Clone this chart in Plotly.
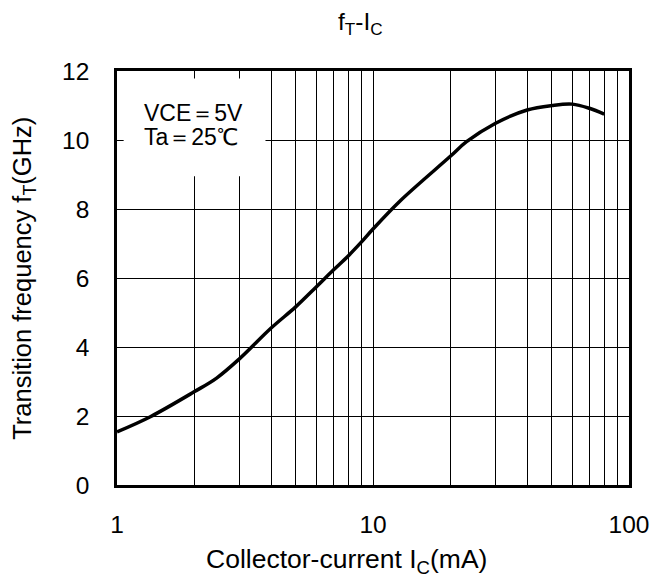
import plotly.graph_objects as go

# Data (collector current in mA, transition frequency in GHz)
ic_ma = [1, 1.35, 2, 2.45, 3, 4, 5, 6, 7, 8, 9, 10, 12.7, 20, 23.2, 30, 40, 50, 60, 70, 80]
ft_ghz = [1.54, 1.98, 2.70, 3.10, 3.65, 4.55, 5.17, 5.74, 6.23, 6.64, 7.04, 7.42, 8.22,
          9.52, 9.95, 10.48, 10.87, 11.00, 11.04, 10.92, 10.75]

x_tickvals = [1, 2, 3, 4, 5, 6, 7, 8, 9, 10, 20, 30, 40, 50, 60, 70, 80, 90, 100]
x_ticktext = ["1", "", "", "", "", "", "", "", "", "10", "", "", "", "", "", "", "", "", "100"]
y_tickvals = [0, 2, 4, 6, 8, 10, 12]

FONT = "Liberation Sans, Arial, sans-serif"

fig = go.Figure()
fig.add_trace(go.Scatter(
    x=ic_ma, y=ft_ghz, mode="lines",
    line=dict(color="black", width=3.5, shape="spline", smoothing=1.0),
    showlegend=False, hoverinfo="skip",
))

fig.update_layout(
    width=667, height=580,
    margin=dict(l=117, r=38, t=71, b=95),
    paper_bgcolor="white", plot_bgcolor="white",
    font=dict(family=FONT, size=24, color="black"),
    showlegend=False,
)

fig.update_xaxes(
    type="log", range=[0, 2],
    tickvals=x_tickvals, ticktext=x_ticktext,
    showgrid=True, gridcolor="black", gridwidth=1,
    showline=True, linecolor="black", linewidth=2.5, mirror=True,
    ticks="inside", ticklen=6, tickcolor="black",
    ticklabelstandoff=16,
    tickfont=dict(family=FONT, size=24.5, color="black"),
    zeroline=False,
)
fig.update_yaxes(
    range=[0, 12],
    tickvals=y_tickvals,
    showgrid=True, gridcolor="black", gridwidth=1,
    showline=True, linecolor="black", linewidth=2.5, mirror=True,
    ticks="inside", ticklen=6, tickcolor="black",
    ticklabelstandoff=20,
    tickfont=dict(family=FONT, size=24.5, color="black"),
    zeroline=False,
)

# White box behind the condition note (covers the grid as in the reference)
fig.add_shape(type="rect", xref="x domain", yref="y domain",
              x0=0.013, x1=0.29, y0=0.746, y1=0.982,
              fillcolor="white", line=dict(width=0), layer="above")

fig.add_annotation(text="VCE＝5V", xref="paper", yref="paper", x=0.049, y=0.899,
                   xanchor="left", yanchor="middle", showarrow=False,
                   font=dict(family=FONT, size=23, color="black"))
fig.add_annotation(text="Ta＝25℃", xref="paper", yref="paper", x=0.049, y=0.841,
                   xanchor="left", yanchor="middle", showarrow=False,
                   font=dict(family=FONT, size=23, color="black"))

# Title
fig.add_annotation(text="f<sub>T</sub>-I<sub>C</sub>", xref="paper", yref="paper",
                   x=0.475, y=(485 - 24) / 414, xanchor="center", yanchor="middle",
                   showarrow=False, font=dict(family=FONT, size=24.5, color="black"))
# Axis titles
fig.add_annotation(text="Collector-current I<sub>C</sub>(mA)", xref="paper", yref="paper",
                   x=0.449, y=(485 - 561) / 414, xanchor="center", yanchor="middle",
                   showarrow=False, font=dict(family=FONT, size=26.5, color="black"))
fig.add_annotation(text="Transition frequency f<sub>T</sub>(GHz)", xref="paper", yref="paper",
                   x=-0.182, y=0.5, xanchor="center", yanchor="middle", textangle=-90,
                   showarrow=False, font=dict(family=FONT, size=25.5, color="black"))

fig.write_html("out.html")
